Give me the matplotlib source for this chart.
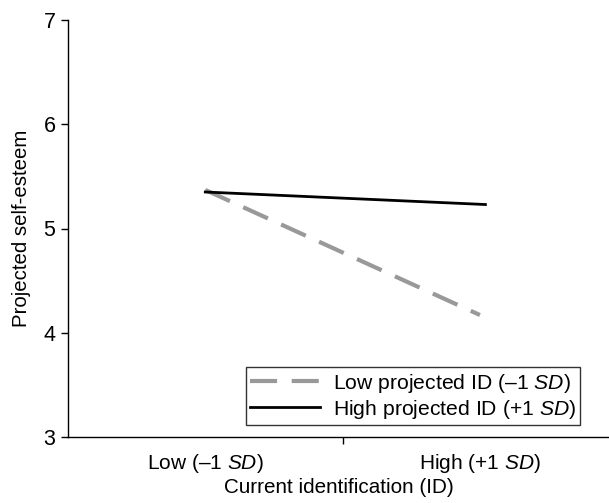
import matplotlib
matplotlib.use('Agg')
import matplotlib.pyplot as plt

plt.rcParams['font.family'] = ['Liberation Sans', 'DejaVu Sans']
plt.rcParams['mathtext.fontset'] = 'custom'
plt.rcParams['mathtext.rm'] = 'Liberation Sans'
plt.rcParams['mathtext.it'] = 'Liberation Sans:italic'

# data
categories = ['Low (–1 $SD$)', 'High (+1 $SD$)']
low_proj = [5.37, 4.17]
high_proj = [5.35, 5.23]
series_names = ['Low projected ID (–1 $SD$)', 'High projected ID (+1 $SD$)']
yticks = [3, 4, 5, 6, 7]

fig = plt.figure(figsize=(6.09, 5.03), dpi=100)
ax = fig.add_axes([68/609, 1 - 437/503, 1 - 68/609, (437 - 20)/503])

x = [1, 2]
ax.plot(x, low_proj, color='#999999', lw=3, dashes=(6.5, 3.5), label=series_names[0])
ax.plot([1, 2.02], high_proj, color='black', lw=2, label=series_names[1])

ax.set_xlim(0.5, 2.47)
ax.set_ylim(3, 7)
ax.set_yticks(yticks)
ax.tick_params(axis='y', direction='out', length=5, width=1, labelsize=15.5, pad=4)

ax.set_xticks(x, categories)
ax.tick_params(axis='x', which='major', length=0, labelsize=15, pad=11)
ax.set_xticks([1.5], minor=True)
ax.tick_params(axis='x', which='minor', direction='out', length=5, width=1)

for s in ['top', 'right']:
    ax.spines[s].set_visible(False)
ax.spines['left'].set_linewidth(1)
ax.spines['bottom'].set_linewidth(1)

ax.set_ylabel('Projected self-esteem', fontsize=14.7, labelpad=9)
ax.set_xlabel('Current identification (ID)', fontsize=14.9, labelpad=2)

leg = ax.legend(loc='lower right', bbox_to_anchor=(512/541, 12/417), fontsize=15.2,
                frameon=True, fancybox=False, edgecolor='black', handlelength=3.3,
                handletextpad=0.6, borderpad=0.2, labelspacing=0.15, borderaxespad=0)
leg.get_frame().set_linewidth(1)

fig.savefig('out.png', dpi=100)
